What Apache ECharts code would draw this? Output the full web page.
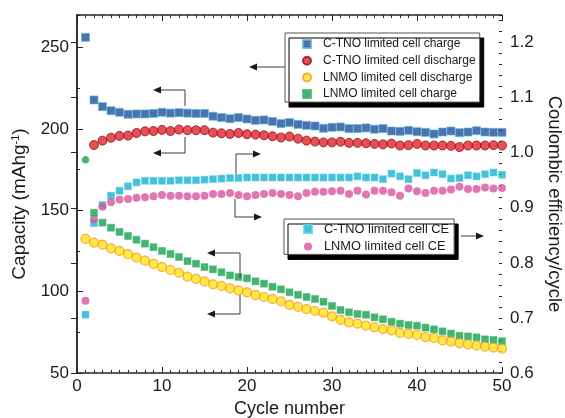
<!DOCTYPE html>
<html>
<head>
<meta charset="utf-8">
<script src="https://cdn.jsdelivr.net/npm/echarts@6/dist/echarts.min.js"></script>
<style>html,body{margin:0;padding:0;background:#fff}#c{width:565px;height:418px}</style>
</head>
<body>
<div id="c"></div>
<script>
const cycles = Array.from({length: 50}, (_, i) => i + 1);
const ctnoCharge = [256.3, 217.8, 213.7, 211.2, 210.2, 209.0, 209.2, 209.2, 209.5, 210.2, 209.7, 210.0, 209.7, 209.5, 209.5, 207.8, 207.0, 206.3, 207.0, 206.1, 205.3, 205.5, 204.6, 203.3, 203.9, 202.8, 202.2, 201.8, 200.4, 201.0, 201.2, 200.2, 200.2, 200.6, 199.8, 200.2, 198.7, 198.5, 199.1, 198.3, 197.9, 196.9, 198.1, 198.7, 197.7, 198.1, 198.9, 198.1, 197.9, 197.9];
const ctnoDischarge = [null, 190.1, 192.8, 194.6, 195.7, 195.9, 197.5, 198.5, 198.7, 199.4, 198.7, 199.6, 199.2, 199.2, 199.2, 197.7, 197.3, 196.9, 197.5, 196.7, 196.5, 196.1, 195.5, 194.7, 195.3, 194.0, 192.8, 192.2, 191.7, 191.7, 192.1, 191.4, 191.4, 191.2, 190.8, 190.5, 191.0, 189.8, 190.0, 190.8, 189.8, 189.8, 189.8, 189.6, 188.9, 189.8, 189.8, 189.8, 190.0, 189.8];
const lnmoDischarge = [132.4, 130.1, 128.9, 126.6, 125.0, 123.0, 120.9, 119.0, 117.0, 115.1, 113.3, 111.6, 109.2, 107.8, 106.3, 104.5, 103.5, 102.0, 100.8, 99.6, 97.9, 96.7, 95.5, 94.0, 91.9, 90.6, 89.3, 88.1, 86.9, 84.8, 82.6, 81.1, 80.3, 79.1, 78.1, 77.0, 76.2, 74.6, 74.0, 73.4, 72.1, 71.5, 70.1, 69.3, 68.4, 67.6, 66.8, 66.2, 65.6, 64.9];
const lnmoCharge = [181.0, 148.5, 142.4, 139.3, 136.7, 134.2, 131.9, 129.5, 127.3, 125.0, 123.1, 121.3, 118.7, 117.2, 115.1, 113.7, 111.9, 110.0, 109.0, 108.2, 106.3, 104.9, 103.0, 101.4, 99.6, 98.1, 96.7, 95.5, 93.8, 91.2, 88.7, 87.3, 86.3, 85.8, 84.2, 83.0, 81.5, 80.3, 79.5, 79.1, 77.9, 76.8, 75.6, 74.2, 72.9, 72.5, 71.9, 70.7, 70.3, 69.5];
const ctnoCE = [0.706, 0.872, 0.905, 0.922, 0.931, 0.939, 0.946, 0.949, 0.949, 0.949, 0.949, 0.950, 0.950, 0.950, 0.951, 0.952, 0.953, 0.954, 0.954, 0.955, 0.955, 0.955, 0.955, 0.955, 0.955, 0.955, 0.955, 0.955, 0.955, 0.955, 0.955, 0.955, 0.957, 0.955, 0.955, 0.952, 0.962, 0.957, 0.952, 0.963, 0.959, 0.964, 0.961, 0.953, 0.954, 0.959, 0.957, 0.961, 0.964, 0.960];
const lnmoCE = [0.731, 0.879, 0.902, 0.910, 0.915, 0.916, 0.918, 0.919, 0.921, 0.923, 0.922, 0.922, 0.921, 0.921, 0.922, 0.925, 0.925, 0.927, 0.923, 0.921, 0.923, 0.925, 0.927, 0.925, 0.923, 0.921, 0.927, 0.929, 0.929, 0.930, 0.931, 0.925, 0.931, 0.924, 0.931, 0.931, 0.928, 0.922, 0.935, 0.930, 0.927, 0.931, 0.931, 0.933, 0.938, 0.934, 0.934, 0.937, 0.935, 0.936];
const xTicks = [0, 10, 20, 30, 40, 50];
const leftTicks = [50, 100, 150, 200, 250];
const rightTicks = [0.6, 0.7, 0.8, 0.9, 1.0, 1.1, 1.2];

const names = {
  cc: 'C-TNO limited cell charge',
  cd: 'C-TNO limited cell discharge',
  ld: 'LNMO limited cell discharge',
  lc: 'LNMO limited cell charge',
  cce: 'C-TNO limited cell CE',
  lce: 'LNMO limited cell CE'
};
const pair = arr => cycles.map((c, i) => [c, arr[i]]).filter(p => p[1] !== null);

const FONT = 'Liberation Sans, Arial, sans-serif';
const INK = '#1a1a1a';
const AX = '#262626';
const SQUARE = 'path://M0,0L10,0L10,10L0,10Z';

function arrow(points, tip, dir) {
  const h = 8, w = 3.5;
  const [tx, ty] = tip;
  let poly;
  if (dir === 'left') poly = [[tx, ty], [tx + h, ty - w], [tx + h, ty + w]];
  else poly = [[tx, ty], [tx - h, ty - w], [tx - h, ty + w]];
  return [
    {type: 'polyline', silent: true, z: 50, shape: {points: points}, style: {stroke: '#3a3a3a', lineWidth: 1, fill: null}},
    {type: 'polygon', silent: true, z: 50, shape: {points: poly}, style: {fill: '#1a1a1a'}}
  ];
}
const graphics = [].concat(
  arrow([[285, 67], [255, 67]], [249, 67], 'left'),
  arrow([[185, 106], [185, 90], [159, 90]], [153, 90], 'left'),
  arrow([[185, 137], [185, 153], [159, 153]], [153, 153], 'left'),
  arrow([[236, 174], [236, 154], [255, 154]], [261, 154], 'right'),
  arrow([[235, 199], [235, 217], [256, 217]], [262, 217], 'right'),
  arrow([[240, 278], [240, 253], [213, 253]], [207, 253], 'left'),
  arrow([[240, 295], [240, 314], [213, 314]], [207, 314], 'left'),
  arrow([[461, 236], [478, 236]], [484, 236], 'right')
);

const chart = echarts.init(document.getElementById('c'), null, {renderer: 'canvas'});
const baseX = {
  type: 'value', min: 0, max: 50, interval: 10,
  axisLine: {show: true, onZero: false, lineStyle: {color: AX, width: 1.5}},
  axisTick: {show: true, inside: true, length: 6, lineStyle: {color: AX, width: 1}},
  minorTick: {show: true, splitNumber: 10, length: 3, lineStyle: {color: AX, width: 1}},
  splitLine: {show: false}
};
chart.setOption({
  animation: false,
  backgroundColor: '#fff',
  textStyle: {fontFamily: FONT},
  grid: {left: 77, right: 63, top: 15, bottom: 45, containLabel: false, outerBoundsMode: 'none'},
  xAxis: [
    Object.assign({}, baseX, {
      position: 'bottom',
      name: 'Cycle number', nameLocation: 'middle', nameGap: 26,
      nameTextStyle: {fontSize: 18, color: INK, fontFamily: FONT},
      axisLabel: {fontSize: 17, color: INK, fontFamily: FONT, margin: 5,
        formatter: v => xTicks.includes(v) ? String(v) : ''}
    }),
    Object.assign({}, baseX, {position: 'top', axisLabel: {show: false}})
  ],
  yAxis: [
    {
      type: 'value', position: 'left', min: 50, max: 270, interval: 50,
      name: '{a|Capacity (mAhg}{b|-1}{a|)}', nameLocation: 'middle', nameGap: 46, nameRotate: 90,
      nameTextStyle: {padding: [0, 20, 0, 0], rich: {a: {fontSize: 19, color: INK, fontFamily: FONT}, b: {fontSize: 11, color: INK, fontFamily: FONT, padding: [0, 0, 9, 0]}}},
      axisLine: {show: true, lineStyle: {color: AX, width: 1.5}},
      axisTick: {show: true, inside: true, length: 6, lineStyle: {color: AX}},
      axisLabel: {fontSize: 17, color: INK, fontFamily: FONT, margin: 8, showMaxLabel: false,
        formatter: v => leftTicks.includes(v) ? String(v) : ''},
      splitLine: {show: false}
    },
    {
      type: 'value', position: 'right', min: 0.6, max: 1.25, interval: 0.1,
      name: 'Coulombic efficiency/cycle', nameLocation: 'middle', nameGap: 42, nameRotate: -90,
      nameTextStyle: {fontSize: 18.5, color: INK, fontFamily: FONT, padding: [0, 0, 0, 20]},
      axisLine: {show: true, lineStyle: {color: AX, width: 1.5}},
      axisTick: {show: true, inside: true, length: 6, lineStyle: {color: AX}},
      axisLabel: {fontSize: 17, color: INK, fontFamily: FONT, margin: 8, showMaxLabel: false,
        formatter: v => rightTicks.some(t => Math.abs(t - v) < 1e-6) ? v.toFixed(1) : ''},
      splitLine: {show: false}
    },
    {
      type: 'value', position: 'left', min: 50, max: 270, interval: 25,
      axisLine: {show: false}, axisLabel: {show: false}, splitLine: {show: false},
      axisTick: {show: true, inside: true, length: 3, lineStyle: {color: AX}}
    },
    {
      type: 'value', position: 'right', min: 0.6, max: 1.25, interval: 0.02,
      axisLine: {show: false}, axisLabel: {show: false}, splitLine: {show: false},
      axisTick: {show: true, inside: true, length: 3, lineStyle: {color: AX}}
    }
  ],
  legend: [
    {
      orient: 'vertical', left: 285, top: 33,
      data: [
        {name: names.cc, icon: SQUARE},
        {name: names.cd, icon: 'circle'},
        {name: names.ld, icon: 'circle'},
        {name: names.lc, icon: SQUARE}
      ],
      itemWidth: 22, itemHeight: 8, itemGap: 2.7,
      padding: [4, 4, 1, 17],
      backgroundColor: '#fff', borderColor: '#555', borderWidth: 1,
      shadowColor: '#000', shadowBlur: 0, shadowOffsetX: 4, shadowOffsetY: 5,
      textStyle: {fontSize: 12, color: INK, fontFamily: FONT, lineHeight: 14},
      selectedMode: false
    },
    {
      orient: 'vertical', left: 284, top: 219,
      data: [
        {name: names.cce, icon: SQUARE},
        {name: names.lce, icon: 'circle'}
      ],
      itemWidth: 22, itemHeight: 8, itemGap: 3.4,
      padding: [3, 5, 1, 19],
      backgroundColor: '#fff', borderColor: '#555', borderWidth: 1,
      shadowColor: '#000', shadowBlur: 0, shadowOffsetX: 4, shadowOffsetY: 5,
      textStyle: {fontSize: 12.8, color: INK, fontFamily: FONT, lineHeight: 14},
      selectedMode: false
    }
  ],
  graphic: graphics,
  series: [
    {name: names.cce, type: 'scatter', yAxisIndex: 1, data: pair(ctnoCE), symbol: 'rect', symbolSize: 7,
      itemStyle: {color: '#17b3cf', borderColor: '#5fd0e4', borderWidth: 0.6}},
    {name: names.lce, type: 'scatter', yAxisIndex: 1, data: pair(lnmoCE), symbol: 'circle', symbolSize: 8,
      itemStyle: {color: '#d9559f'}},
    {name: names.lc, type: 'scatter', yAxisIndex: 0, data: pair(lnmoCharge), symbolSize: 7,
      symbol: (v, p) => p.dataIndex === 0 ? 'circle' : 'rect',
      itemStyle: {color: '#17a04e', borderColor: '#45b870', borderWidth: 0.6}},
    {name: names.ld, type: 'scatter', yAxisIndex: 0, data: pair(lnmoDischarge), symbol: 'circle', symbolSize: 9,
      itemStyle: {color: '#ffe21a', borderColor: '#f39a1e', borderWidth: 1.2}},
    {name: names.cd, type: 'scatter', yAxisIndex: 0, data: pair(ctnoDischarge), symbol: 'circle', symbolSize: 9,
      itemStyle: {color: '#e4202a', borderColor: '#8a1515', borderWidth: 1}},
    {name: names.cc, type: 'scatter', yAxisIndex: 0, data: pair(ctnoCharge), symbol: 'rect', symbolSize: 8,
      itemStyle: {color: '#1f4f9f', borderColor: '#5cb6d0', borderWidth: 0.8}}
  ]
});
</script>
</body>
</html>
